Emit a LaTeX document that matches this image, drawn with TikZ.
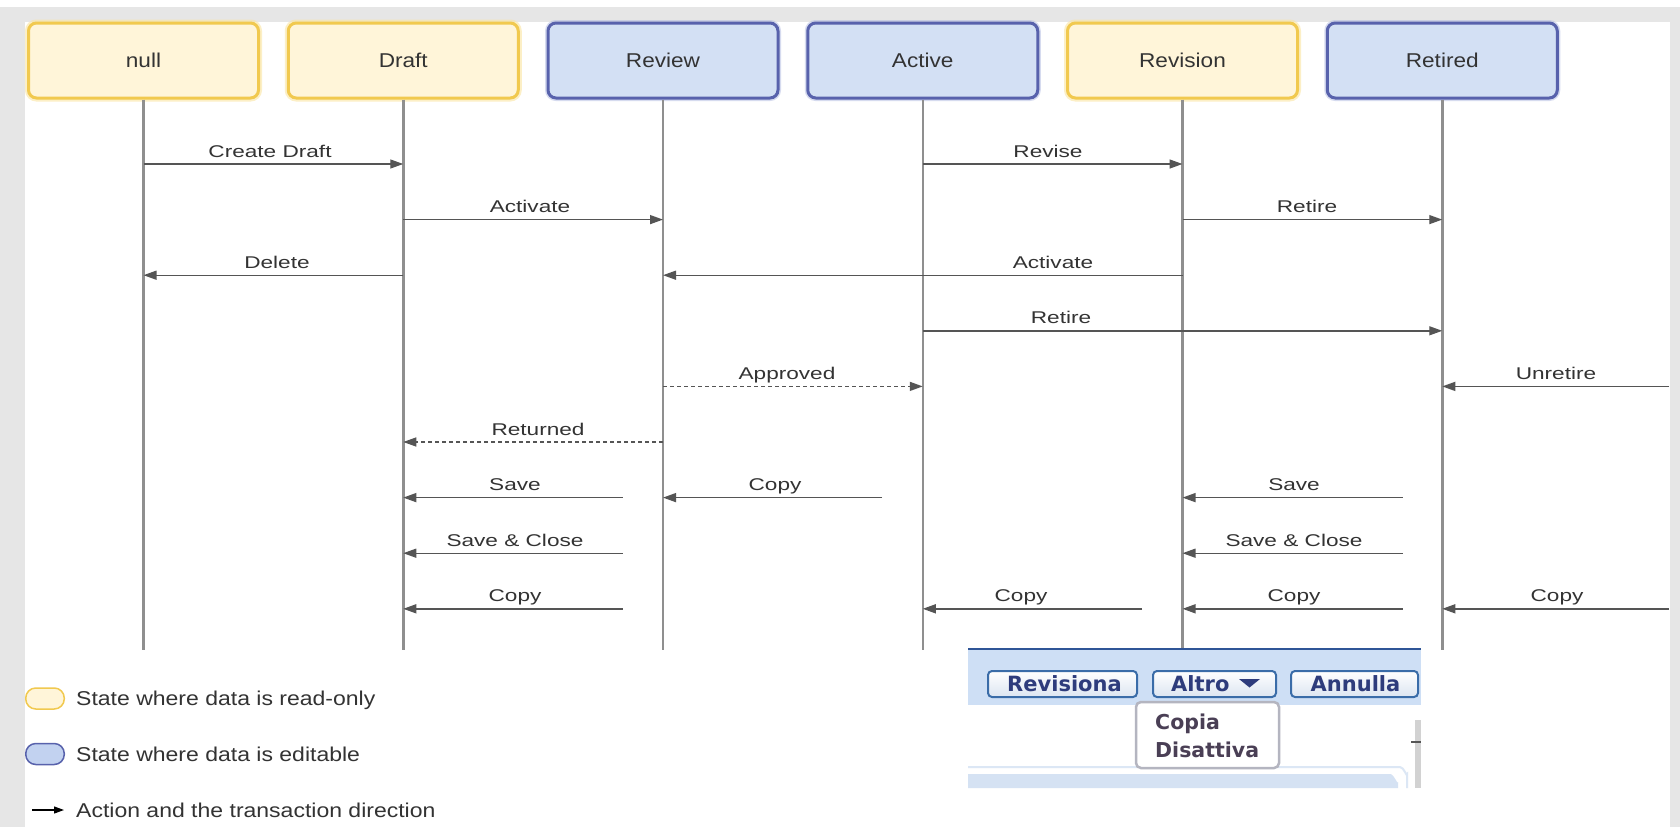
\documentclass[tikz,border=0pt]{standalone}
\usepackage{fontspec}
\setmainfont{Liberation Sans}
\newfontfamily\labfont[FakeStretch=1.33]{Liberation Sans}
\newfontfamily\boxfont[FakeStretch=1.13]{Liberation Sans}
\newfontfamily\legfont[FakeStretch=1.15]{Liberation Sans}
\newfontfamily\uifont{DejaVu Sans}
\usetikzlibrary{arrows.meta}
\definecolor{frameg}{HTML}{E6E6E6}
\definecolor{yfill}{HTML}{FFF5D9}
\definecolor{ydraw}{HTML}{F1C94F}
\definecolor{yglow}{HTML}{FBE5A0}
\definecolor{bfill}{HTML}{D3E0F4}
\definecolor{bdraw}{HTML}{5862AC}
\definecolor{bglow}{HTML}{AEB8E0}
\definecolor{lifeg}{HTML}{8F8F8F}
\definecolor{msgc}{HTML}{555555}
\definecolor{txt}{HTML}{333333}
\definecolor{uiband}{HTML}{CEDFF5}
\definecolor{uiline}{HTML}{2F5597}
\definecolor{btnborder}{HTML}{3A6CA8}
\definecolor{btntext}{HTML}{2E3C7C}
\definecolor{menuborder}{HTML}{B4B5C0}
\definecolor{menutext}{HTML}{4A3F55}
\definecolor{panelline}{HTML}{DCE7F5}
\definecolor{panelfill}{HTML}{D5E2F3}
\definecolor{scrollg}{HTML}{D2D2D2}
\definecolor{legblue}{HTML}{C2D2F0}
\definecolor{btnshade}{HTML}{DCE5F1}
\tikzset{
  state/.style={rounded corners=8pt, minimum width=230pt, minimum height=75pt,
    line width=3pt, inner sep=0pt, font=\boxfont\fontsize{20}{24}\selectfont, text=txt},
  ystate/.style={state, draw=ydraw, fill=yfill, preaction={draw=yglow, line width=7pt, opacity=0.6}},
  bstate/.style={state, draw=bdraw, fill=bfill, preaction={draw=bglow, line width=6pt, opacity=0.5}},
  lifeline/.style={draw=lifeg, line width=2.5pt},
  msg/.style={draw=msgc, line width=1.4pt, -{Triangle[length=13pt,width=9pt]}},
  retmsg/.style={msg, dash pattern=on 4pt off 3pt},
  lab/.style={font=\labfont\fontsize{17}{20}\selectfont, text=txt, anchor=base, inner sep=0pt},
  leg/.style={font=\legfont\fontsize{20}{24}\selectfont, text=txt, anchor=base west, inner sep=0pt},
  pill/.style={rounded corners=10pt, minimum width=38.5pt, minimum height=21pt, line width=1.5pt, inner sep=0pt},
  btn/.style={draw=btnborder, line width=2pt, rounded corners=4pt, top color=white, bottom color=btnshade, inner sep=0pt, minimum height=26pt},
  btntxt/.style={font=\uifont\bfseries\fontsize{21}{24}\selectfont, text=btntext, inner sep=0pt, anchor=base},
  menutxt/.style={font=\uifont\bfseries\fontsize{20.5}{22}\selectfont, text=menutext, inner sep=0pt, anchor=base west},
}
\begin{document}
\begin{tikzpicture}[x=1pt,y=-1pt]
\useasboundingbox (0,0) rectangle (1680,827);
% frame
\fill[frameg] (0,0) rectangle (1680,827);
\fill[white] (0,0) rectangle (1680,7);
\fill[white] (25,22) rectangle (1670,827);
% states
\node[ystate] (n0) at (143.5,60.5) {null};
\node[ystate] (n1) at (403.25,60.5) {Draft};
\node[bstate] (n2) at (663,60.5) {Review};
\node[bstate] (n3) at (922.75,60.5) {Active};
\node[ystate] (n4) at (1182.5,60.5) {Revision};
\node[bstate] (n5) at (1442.25,60.5) {Retired};
% rows
\coordinate (lend) at (0,650);
\coordinate (r1) at (0,164);
\coordinate (r2) at (0,219.6);
\coordinate (r3) at (0,275.2);
\coordinate (r4) at (0,330.8);
\coordinate (r5) at (0,386.4);
\coordinate (r6) at (0,442);
\coordinate (r7) at (0,497.6);
\coordinate (r8) at (0,553.2);
\coordinate (r9) at (0,608.8);
% free starts
\coordinate (p2) at (622.5,0);
\coordinate (p3) at (882,0);
\coordinate (p4) at (1142,0);
\coordinate (p5) at (1402.5,0);
\coordinate (pe) at (1669,0);
% lifelines
\foreach \n in {n0,n1,n2,n3,n4,n5}{\draw[lifeline] (\n.south) -- (\n.south |- lend);}
% messages
\draw[msg] (n0 |- r1) -- (n1 |- r1);
\node[lab] (t1) at (270,157) {Create Draft};
\draw[msg] (n3 |- r1) -- (n4 |- r1);
\node[lab] (t2) at (1048,157) {Revise};
\draw[msg] (n1 |- r2) -- (n2 |- r2);
\node[lab] (t3) at (530,212.6) {Activate};
\draw[msg] (n4 |- r2) -- (n5 |- r2);
\node[lab] (t4) at (1307,212.6) {Retire};
\draw[msg] (n1 |- r3) -- (n0 |- r3);
\node[lab] (t5) at (277,268.2) {Delete};
\draw[msg] (n4 |- r3) -- (n2 |- r3);
\node[lab] (t6) at (1053,268.2) {Activate};
\draw[msg] (n3 |- r4) -- (n5 |- r4);
\node[lab] (t7) at (1061,323.8) {Retire};
\draw[retmsg] (n2 |- r5) -- (n3 |- r5);
\node[lab] (t8) at (787,379.4) {Approved};
\draw[msg] (pe |- r5) -- (n5 |- r5);
\node[lab] (t9) at (1556,379.4) {Unretire};
\draw[retmsg] (n2 |- r6) -- (n1 |- r6);
\node[lab] (t10) at (538,435) {Returned};
\draw[msg] (p2 |- r7) -- (n1 |- r7);
\node[lab] (t11) at (515,490.6) {Save};
\draw[msg] (p3 |- r7) -- (n2 |- r7);
\node[lab] (t12) at (775,490.6) {Copy};
\draw[msg] (p5 |- r7) -- (n4 |- r7);
\node[lab] (t13) at (1294,490.6) {Save};
\draw[msg] (p2 |- r8) -- (n1 |- r8);
\node[lab] (t14) at (515,546.2) {Save \& Close};
\draw[msg] (p5 |- r8) -- (n4 |- r8);
\node[lab] (t15) at (1294,546.2) {Save \& Close};
\draw[msg] (p2 |- r9) -- (n1 |- r9);
\node[lab] (t16) at (515,601.8) {Copy};
\draw[msg] (p4 |- r9) -- (n3 |- r9);
\node[lab] (t17) at (1021,601.8) {Copy};
\draw[msg] (p5 |- r9) -- (n4 |- r9);
\node[lab] (t18) at (1294,601.8) {Copy};
\draw[msg] (pe |- r9) -- (n5 |- r9);
\node[lab] (t19) at (1557,601.8) {Copy};
% legend
\node[pill, draw=ydraw, fill=yfill] (lg1) at (45,698.5) {};
\node[leg] (lt1) at (76,705.5) {State where data is read-only};
\node[pill, draw=bdraw, fill=legblue] (lg2) at (45,754) {};
\node[leg] (lt2) at (76,761) {State where data is editable};
\coordinate (la0) at (32,810);
\coordinate (la1) at (64,810);
\draw[draw=black, line width=1.2pt, -{Triangle[length=10pt,width=7pt]}] (la0) -- (la1);
\node[leg] (lt3) at (76,817) {Action and the transaction direction};
% screenshot panel
\fill[white] (968,649) rectangle (1421,788);
\fill[uiband] (968,649) rectangle (1421,705);
\draw[uiline, line width=2pt] (968,649) -- (1421,649);
\draw[panelline, line width=2pt] (968,767) -- (1400,767) to[out=0,in=-90] (1407,774) -- (1407,788);
\fill[panelfill] (968,788) -- (968,774) -- (1390,774) to[out=0,in=-90] (1398,782) -- (1398,788) -- cycle;
\fill[scrollg] (1415,720) rectangle (1421,788);
\draw[msgc, line width=1.5pt] (1411,742) -- (1421,742);
\node[btn, minimum width=149pt] (b1) at (1062.5,684) {};
\node[btntxt] (bt1) at (1064.5,691.5) {Revisiona};
\node[btn, minimum width=123pt] (b2) at (1214.5,684) {};
\node[btntxt, anchor=base west] (bt2) at (1171,691.5) {Altro};
\fill[btntext] (1239,679) -- (1260,679) -- (1249.5,687.5) -- cycle;
\node[btn, minimum width=127pt] (b3) at (1354.5,684) {};
\node[btntxt] (bt3) at (1355.5,691.5) {Annulla};
\node[draw=menuborder, line width=2.5pt, rounded corners=5pt, fill=white, minimum width=143pt, minimum height=66pt, inner sep=0pt] (menu) at (1207.5,735) {};
\node[menutxt] (m1) at (1155,729) {Copia};
\node[menutxt] (m2) at (1155,757) {Disattiva};
\end{tikzpicture}
\end{document}
